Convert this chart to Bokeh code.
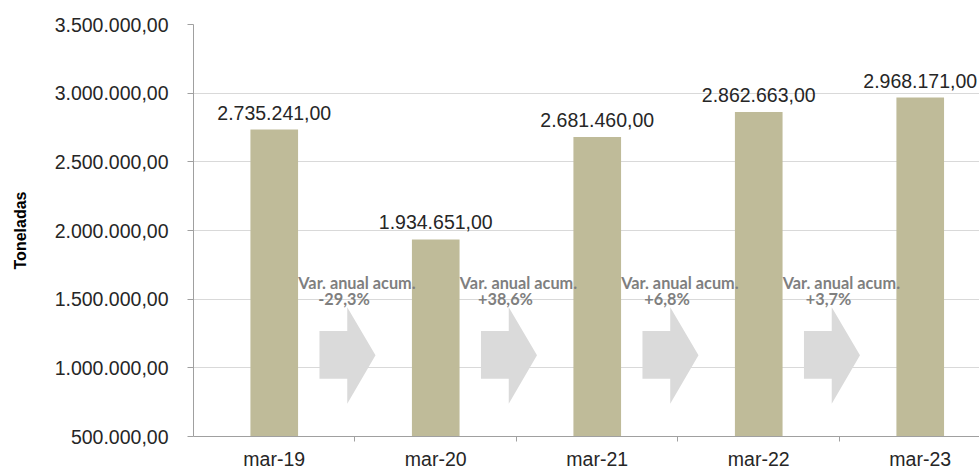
import numpy as np
from bokeh.plotting import figure
from bokeh.models import Range1d, FixedTicker, ColumnDataSource
from bokeh.core.properties import value
from bokeh.embed import file_html
from bokeh.resources import INLINE

# ---- data ----
categories = ["mar-19", "mar-20", "mar-21", "mar-22", "mar-23"]
toneladas = [2735241.00, 1934651.00, 2681460.00, 2862663.00, 2968171.00]
y_ticks = [500000, 1000000, 1500000, 2000000, 2500000, 3000000, 3500000]
y_tick_labels = ["500.000,00", "1.000.000,00", "1.500.000,00", "2.000.000,00",
                 "2.500.000,00", "3.000.000,00", "3.500.000,00"]
var_title = "Var. anual acum."
var_labels = ["-29,3%", "+38,6%", "+6,8%", "+3,7%"]

def fmt_es(v):
    s = f"{v:,.2f}"
    return s.replace(",", "X").replace(".", ",").replace("X", ".")

x_pos = list(range(len(categories)))
boundaries = [i + 0.5 for i in x_pos[:-1]]
y_min, y_max = y_ticks[0], y_ticks[-1]

p = figure(width=979, height=472, output_backend="svg", toolbar_location=None,
           x_range=Range1d(-0.5, 4.367), y_range=Range1d(y_min, y_max),
           min_border_left=193, min_border_right=0, min_border_top=24,
           min_border_bottom=34)
p.outline_line_color = None
p.background_fill_color = "white"
p.border_fill_color = "white"

# grid
p.xgrid.visible = False
p.ygrid.grid_line_color = "#D9D9D9"
p.ygrid.grid_line_width = 1

# bars
src = ColumnDataSource(dict(x=x_pos, top=toneladas,
                            lab=[fmt_es(v) for v in toneladas]))
p.vbar(x="x", top="top", bottom=y_min, width=0.295, source=src,
       fill_color="#BFBB99", line_color=None)
p.text(x="x", y="top", text="lab", source=src, text_align="center",
       text_baseline="alphabetic", y_offset=-17,
       text_font=value("Liberation Sans"), text_font_size="19.5px",
       text_color="#262626")

# arrows (shape offsets around each boundary)
a_shaft_l, a_head_l, a_tip = -0.22, -0.048, 0.127
a_shaft_top, a_shaft_bot = 1268000, 920000
a_head_top, a_head_bot, a_tip_y = 1442000, 739000, 1092000
xs, ys = [], []
for b in boundaries:
    xs.append([b + a_shaft_l, b + a_head_l, b + a_head_l, b + a_tip,
               b + a_head_l, b + a_head_l, b + a_shaft_l])
    ys.append([a_shaft_top, a_shaft_top, a_head_top, a_tip_y,
               a_head_bot, a_shaft_bot, a_shaft_bot])
p.patches(xs=xs, ys=ys, fill_color="#DADADA", line_color=None)

# variation labels
p.text(x=[b + 0.012 for b in boundaries], y=[1625000] * len(boundaries),
       text=[var_title] * len(boundaries), text_align="center",
       text_baseline="alphabetic", text_font=value("Lato"),
       text_font_style="bold", text_font_size="16.3px", text_color="#7F7F7F")
p.text(x=boundaries, y=[1508000] * len(boundaries), text=var_labels,
       x_offset=-11, text_align="center", text_baseline="alphabetic",
       text_font=value("Lato"), text_font_style="bold",
       text_font_size="16.3px", text_color="#7F7F7F")

# x axis
xa = p.xaxis[0]
xa.ticker = FixedTicker(ticks=x_pos, minor_ticks=boundaries)
xa.major_label_overrides = {i: c for i, c in zip(x_pos, categories)}
xa.major_tick_out = 0
xa.major_tick_in = 0
xa.minor_tick_out = 5
xa.minor_tick_in = 0
xa.minor_tick_line_color = "#A0A0A0"
xa.axis_line_color = "#A0A0A0"
xa.major_label_standoff = 6
xa.major_label_text_font = "Liberation Sans"
xa.major_label_text_font_size = "19.5px"
xa.major_label_text_color = "#262626"

# y axis
ya = p.yaxis[0]
ya.ticker = FixedTicker(ticks=y_ticks)
ya.major_label_overrides = {t: l for t, l in zip(y_ticks, y_tick_labels)}
ya.minor_tick_line_color = None
ya.major_tick_out = 6
ya.major_tick_in = 0
ya.major_tick_line_color = "#A0A0A0"
ya.axis_line_color = "#A0A0A0"
ya.major_label_standoff = 19
ya.major_label_text_font = "Liberation Sans"
ya.major_label_text_font_size = "19.5px"
ya.major_label_text_color = "#262626"
ya.axis_label = "Toneladas"
ya.axis_label_text_font = "Liberation Sans"
ya.axis_label_text_font_style = "bold"
ya.axis_label_text_font_size = "16px"
ya.axis_label_text_color = "#000000"
ya.axis_label_standoff = 23

open("out.html", "w").write(file_html(p, INLINE))
